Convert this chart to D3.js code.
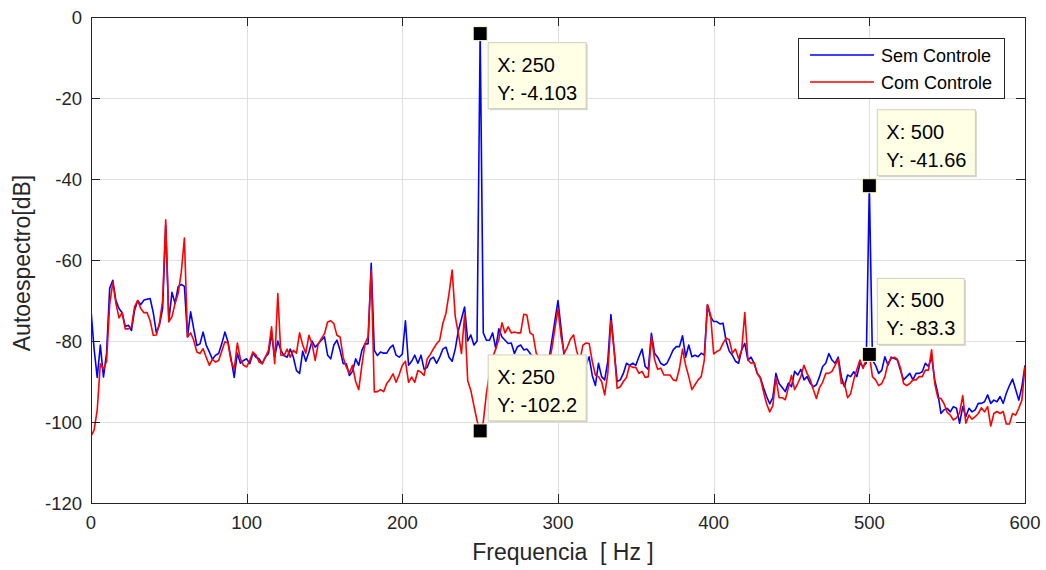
<!DOCTYPE html>
<html>
<head>
<meta charset="utf-8">
<script src="https://cdn.jsdelivr.net/npm/d3@7"></script>
<style>
  html, body { margin: 0; padding: 0; background: #ffffff; }
  svg { display: block; font-family: "Liberation Sans", Arial, Helvetica, sans-serif; }
</style>
</head>
<body>
<svg id="chart" width="1046" height="570"></svg>
<script>
// Spectrum sampled every 2 Hz from 0 to 600 Hz
const freqStep = 2;
const xTicks = [0, 100, 200, 300, 400, 500, 600];
const yTicks = [0, -20, -40, -60, -80, -100, -120];
const seriesNames = ["Sem Controle", "Com Controle"];
const seriesColors = ["#0000ff", "#ff0000"];

// Autospectrum without control [dB]
const semControle = [
  -72.4, -82, -89, -81, -88.9, -83, -67, -65, -70, -72,
  -73, -76.4, -76.1, -77.4, -72.4, -70, -71, -69.9, -69.7, -69.5,
  -73, -78, -76, -72, -51.5, -75, -68, -70.7, -66.6, -66,
  -66.5, -79, -72.8, -77, -81.1, -80.7, -77.8, -81, -82.7, -84.5,
  -83.5, -83.1, -80.7, -77.8, -80.2, -84.4, -89, -83, -85.5, -84.8,
  -84.4, -85.6, -83, -84, -84.4, -85.6, -84, -83.1, -78.2, -84,
  -80, -82.3, -83.6, -84, -82, -84, -87.3, -88, -82.5, -85,
  -82.7, -80, -81.5, -80.7, -79.8, -79, -83.5, -84.4, -81, -79.8,
  -82.3, -85.6, -85.6, -88.5, -87.5, -84.4, -86, -82.3, -80.7, -80.7,
  -60.8, -82.3, -83.6, -82.7, -83, -83, -81.7, -81, -83.5, -84,
  -83.2, -75, -86, -85, -83.5, -85.5, -83.5, -87, -86.5, -84.5,
  -84, -85.5, -84, -82, -81.5, -84, -85, -82, -77.4, -74.5,
  -71.6, -80, -78.5, -81, -80, -4.103, -78, -79.8, -79.8, -78,
  -81.8, -77, -79, -79.8, -80.6, -80.5, -83.1, -81.4, -81, -82.2,
  -82, -83, -84, -85, -86, -87, -86, -85, -80, -75,
  -70, -77, -84, -86, -87, -85, -86, -88, -87, -86,
  -83.9, -88.5, -91, -85.5, -88.8, -89.6, -85, -73.5, -82, -90,
  -89.6, -88, -85.5, -86, -85.5, -86, -83.9, -82, -86.3, -87,
  -78.1, -83, -84, -85.5, -86, -85.5, -83.9, -82.2, -81.4, -81.4,
  -78.7, -84, -81, -83.9, -83.5, -83.9, -83, -83.5, -71.1, -74,
  -75.2, -75.2, -75.8, -75.6, -80, -82.5, -83.5, -85, -85.5, -82.2,
  -80.6, -84.7, -84, -85.5, -88, -89, -91.5, -93.7, -95.5, -94,
  -88, -90.5, -91.5, -92.5, -90.4, -91.3, -87.5, -88.4, -87, -89.6,
  -88.8, -90.4, -91.3, -90.8, -88.8, -86.3, -85.5, -83.1, -84.7, -85.5,
  -84, -88.8, -91.3, -88.4, -88.8, -87.6, -88.8, -85.5, -86.3, -85.5,
  -41.66, -84.7, -86, -88, -87.2, -83.9, -86, -84, -84.3, -84.7,
  -87.2, -89.6, -88.8, -88, -89.6, -88, -88, -87.6, -85.5, -86.3,
  -83.9, -89.6, -92.9, -97.9, -97, -96.6, -97.5, -96.2, -96.6, -100.3,
  -96.2, -98.7, -96.6, -97.5, -97, -95.4, -95.4, -95, -93.3, -95.4,
  -94.6, -95, -93.7, -95.4, -92.9, -91, -89.4, -92, -94.6, -91.3,
  -86
];

// Autospectrum with control [dB]
const comControle = [
  -103.5, -102, -97, -85.6, -87, -85, -71, -65.5, -70.7, -74.3,
  -73, -77, -77, -76.5, -71.5, -70, -72, -73, -73, -75,
  -78.6, -78.5, -75.5, -70, -50.1, -75.3, -74, -70.7, -68.3, -63,
  -54.6, -79, -78, -79.8, -82.7, -83.1, -81.9, -84, -86, -84.5,
  -85.2, -84.8, -82.5, -80.2, -80.5, -85, -87, -80.5, -84.5, -86,
  -86.4, -84.8, -82.7, -83.5, -85.2, -85.6, -84, -82.3, -76.5, -85.6,
  -68.3, -83.5, -83.6, -82, -84, -82.3, -83, -78, -81, -83,
  -78.6, -80.7, -84.8, -80.7, -79.4, -78.2, -75.3, -75, -75.7, -78.6,
  -79, -84, -86.4, -88, -86, -90, -92, -86, -80.7, -79,
  -62.5, -92.6, -92.5, -92, -92.5, -90.5, -89.5, -88.1, -90.2, -88.3,
  -86, -85, -90.2, -88.9, -90.2, -87.3, -87.7, -88.5, -84.4, -83.3,
  -81.9, -80.7, -79.8, -75.7, -73.2, -68.3, -62.5, -74, -78.2, -83.1,
  -73.5, -89.8, -92.2, -96, -99.7, -102.2, -100, -93, -88, -84,
  -82, -79.6, -75.5, -78, -76.5, -78, -77.8, -78, -78, -73.4,
  -73.6, -78, -78.5, -83, -84, -86, -88, -86, -82, -77,
  -72, -79, -83, -81.5, -79.5, -78.5, -82.5, -85, -81, -80.5,
  -80.6, -85, -88.4, -88.8, -90, -93.3, -88, -75, -82, -91.7,
  -91.3, -90, -89, -86, -86.5, -86.5, -88, -87.5, -89, -88.8,
  -79, -84.5, -87, -86.7, -88.4, -88.4, -88.4, -89.6, -89.8, -86.8,
  -82, -86, -88.8, -92, -90.8, -89.6, -88.8, -84.7, -71, -73.5,
  -83.2, -82.6, -82.2, -80.6, -79.3, -79.7, -83, -82, -84.3, -82.2,
  -73, -84.7, -85.5, -85.3, -88, -89.2, -92.5, -95.5, -97.5, -96,
  -89, -94, -94, -94.5, -91.5, -88.5, -92, -90.5, -88.8, -86,
  -88, -89.5, -92, -94.2, -91.5, -90.2, -88, -88, -87.5, -86,
  -84.5, -90.5, -90.4, -94, -93, -89.6, -87, -84.7, -86.8, -84.5,
  -83.3, -88.8, -89.6, -91, -90.5, -88.8, -85.5, -84.3, -84, -84.5,
  -86.7, -90.5, -91, -90.5, -89.6, -89.6, -88.8, -88.8, -87.2, -87.2,
  -82.2, -90.5, -94, -94.2, -95.5, -97.6, -98.3, -99.5, -99, -97.7,
  -93.5, -100.3, -98.3, -99.3, -98.7, -97.9, -96.5, -97.5, -96.2, -101,
  -97.9, -97.4, -97.9, -97.4, -100.5, -100.5, -97.9, -98.3, -96.6, -94.6,
  -86.3
];

// Data cursors: which series, at which frequency, box above or below
const tipSeries = [0, 1, 0, 1];
const tipFreqs = [250, 250, 500, 500];
const tipSides = ["below", "above", "above", "above"];

const plotL = 91, plotR = 1025, plotT = 17, plotB = 503;
const axisColor = "#262626";
const gridColor = "#dfdfdf";
const tickLen = 9;

const svg = d3.select("#chart");

const x = d3.scaleLinear().domain([0, 600]).range([plotL, plotR]);
const y = d3.scaleLinear().domain([-120, 0]).range([plotB, plotT]);

// grid
const grid = svg.append("g").attr("stroke", gridColor).attr("stroke-width", 1);
grid.selectAll("line.vx").data(xTicks.slice(1, -1)).join("line")
  .attr("x1", d => Math.round(x(d)) + 0.5).attr("x2", d => Math.round(x(d)) + 0.5)
  .attr("y1", plotT).attr("y2", plotB);
grid.selectAll("line.hy").data(yTicks.slice(1, -1)).join("line")
  .attr("x1", plotL).attr("x2", plotR)
  .attr("y1", d => Math.round(y(d)) + 0.5).attr("y2", d => Math.round(y(d)) + 0.5);

// spectra
const series = [semControle, comControle];
svg.append("defs").append("clipPath").attr("id", "plotClip")
  .append("rect").attr("x", plotL).attr("y", plotT).attr("width", plotR - plotL).attr("height", plotB - plotT);

const line = d3.line()
  .x((d, i) => x(i * freqStep))
  .y(d => y(d));

const plot = svg.append("g").attr("clip-path", "url(#plotClip)");
series.forEach((vals, k) => {
  plot.append("path")
    .datum(vals)
    .attr("fill", "none")
    .attr("stroke", seriesColors[k])
    .attr("stroke-width", 1.6)
    .attr("stroke-linejoin", "round")
    .attr("d", line);
});

// axes box and ticks (inside, on all four sides)
const ax = svg.append("g").attr("stroke", axisColor).attr("stroke-width", 1).attr("shape-rendering", "crispEdges");
ax.append("rect").attr("x", plotL).attr("y", plotT).attr("width", plotR - plotL).attr("height", plotB - plotT).attr("fill", "none");
xTicks.forEach(t => {
  const px = Math.round(x(t));
  ax.append("line").attr("x1", px).attr("x2", px).attr("y1", plotB).attr("y2", plotB - tickLen);
  ax.append("line").attr("x1", px).attr("x2", px).attr("y1", plotT).attr("y2", plotT + tickLen);
});
yTicks.forEach(t => {
  const py = Math.round(y(t));
  ax.append("line").attr("x1", plotL).attr("x2", plotL + tickLen).attr("y1", py).attr("y2", py);
  ax.append("line").attr("x1", plotR).attr("x2", plotR - tickLen).attr("y1", py).attr("y2", py);
});

// tick labels
const tickFont = 18.5;
svg.append("g").selectAll("text").data(xTicks).join("text")
  .attr("x", d => x(d)).attr("y", plotB + 26)
  .attr("text-anchor", "middle").attr("font-size", tickFont).attr("fill", axisColor)
  .text(d => d);
svg.append("g").selectAll("text").data(yTicks).join("text")
  .attr("x", plotL - 9).attr("y", d => y(d) + 6.5)
  .attr("text-anchor", "end").attr("font-size", tickFont).attr("fill", axisColor)
  .text(d => d);

// axis titles
svg.append("text")
  .attr("x", (plotL + plotR) / 2 + 5).attr("y", 560)
  .attr("text-anchor", "middle").attr("font-size", 23).attr("fill", axisColor)
  .attr("xml:space", "preserve").style("white-space", "pre")
  .text("Frequencia  [ Hz ]");
svg.append("text")
  .attr("transform", `translate(30,${(plotT + plotB) / 2 + 3}) rotate(-90)`)
  .attr("text-anchor", "middle").attr("font-size", 23).attr("fill", axisColor)
  .text("Autoespectro[dB]");

// legend
const lg = svg.append("g");
lg.append("rect").attr("x", 798).attr("y", 38).attr("width", 206).attr("height", 60)
  .attr("fill", "#ffffff").attr("stroke", axisColor).attr("stroke-width", 1).attr("shape-rendering", "crispEdges");
seriesNames.forEach((name, k) => {
  const ly = 55 + k * 27;
  lg.append("line").attr("x1", 810).attr("x2", 874).attr("y1", ly).attr("y2", ly)
    .attr("stroke", seriesColors[k]).attr("stroke-width", 1.6);
  lg.append("text").attr("x", 881).attr("y", ly + 6.5)
    .attr("font-size", 18).attr("fill", "#000000").text(name);
});

// data cursors
const fmt = v => d3.format(".4~g")(v).replace("\u2212", "-");
const tipLayer = svg.append("g");
tipFreqs.forEach((f, k) => {
  const vals = series[tipSeries[k]];
  const v = vals[Math.round(f / freqStep)];
  const cx = x(f), cy = y(v);
  const g = tipLayer.append("g");
  const boxH = 66;
  const boxTop = tipSides[k] === "below" ? cy + 9 : cy - 10 - boxH;
  const boxLeft = cx + 8;
  const shadow = g.append("rect");
  const rect = g.append("rect");
  const t1 = g.append("text").attr("x", boxLeft + 9).attr("y", boxTop + 29)
    .attr("font-size", 20).attr("fill", "#000000").text(`X: ${f}`);
  const t2 = g.append("text").attr("x", boxLeft + 9).attr("y", boxTop + 57)
    .attr("font-size", 20).attr("fill", "#000000").text(`Y: ${fmt(v)}`);
  const tw = Math.max(t1.node().getComputedTextLength(), t2.node().getComputedTextLength());
  const boxW = Math.round(tw + 18);
  shadow.attr("x", boxLeft + 1.5).attr("y", boxTop + 1.5).attr("width", boxW).attr("height", boxH)
    .attr("fill", "#d6d6cc");
  rect.attr("x", boxLeft).attr("y", boxTop).attr("width", boxW).attr("height", boxH)
    .attr("fill", "#ffffe6").attr("stroke", "#cfcfbf").attr("stroke-width", 1);
  // marker
  tipLayer.append("rect")
    .attr("x", cx - 7).attr("y", cy - 7).attr("width", 14).attr("height", 14)
    .attr("fill", "#000000").attr("stroke", "#ffffd0").attr("stroke-width", 1);
});
</script>
</body>
</html>
